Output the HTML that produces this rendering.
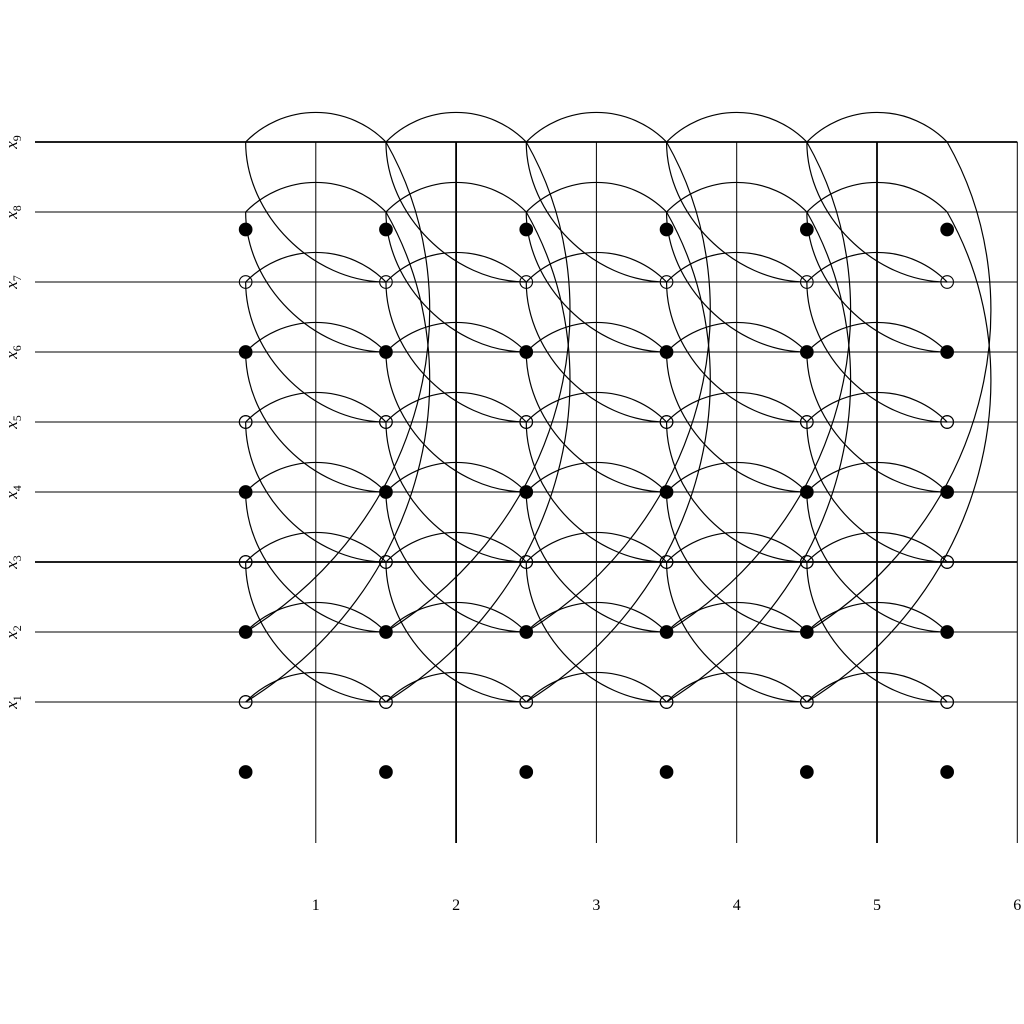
<!DOCTYPE html>
<html><head><meta charset="utf-8"><style>
body{margin:0;background:#fff}
svg{display:block}
text{font-family:"Liberation Serif",serif;fill:#000}
</style></head><body>
<svg id="chart" width="1024" height="1024" viewBox="0 0 1024 1024" xmlns="http://www.w3.org/2000/svg"></svg>
<script>
// data
const xTicks = [1, 2, 3, 4, 5, 6];
const thickX = [2, 5];
const rowLabels = [1, 2, 3, 4, 5, 6, 7, 8, 9];
const thickRows = [3, 9];
const nodeCols = [0.5, 1.5, 2.5, 3.5, 4.5, 5.5];
const nodeLevels = [0, 1, 2, 3, 4, 5, 6, 7.75]; // 0 = below x1
const nodeFilled = [true, false, true, false, true, false, true, true];
const nodeLevelsOpen = [1, 3, 5, 7];

const svg = document.getElementById('chart');
const NS = 'http://www.w3.org/2000/svg';
const sx = v => 175.5 + v * 140.3;      // x axis: 1->316, 6->1017
const sy = r => 772 - r * 70;           // row r: 1->702, 9->142
function el(tag, attrs, parent) {
  const e = document.createElementNS(NS, tag);
  for (const k in attrs) e.setAttribute(k, attrs[k]);
  (parent || svg).appendChild(e);
  return e;
}
const gGrid = el('g', {stroke: '#000', fill: 'none'});


rowLabels.forEach(r => {
  const l = el('line', {x1: 35, x2: sx(6), y1: sy(r), y2: sy(r), 'stroke-width': thickRows.includes(r) ? 1.8 : 1}, gGrid);
  
  
  const t = el('text', {x: 0, y: 0, 'font-size': 17, 'font-style': 'italic', transform: `translate(17,${sy(r)}) rotate(-90)`, 'text-anchor': 'middle'});
  
  
  t.innerHTML = 'x<tspan font-size="12" font-style="normal" dy="4">' + r + '</tspan>';
});
xTicks.forEach(v => {
  const l = el('line', {x1: sx(v), x2: sx(v), y1: sy(9), y2: 843, 'stroke-width': thickX.includes(v) ? 1.8 : 1}, gGrid);
  
  
  const t = el('text', {x: sx(v), y: 910, 'font-size': 16, 'text-anchor': 'middle'});
  
  
  t.textContent = v;
});
const gCurves = el('g', {stroke: '#000', fill: 'none', 'stroke-width': 1.2});


rowLabels.forEach(r => {
  for (let i = 0; i < nodeCols.length - 1; i++) {
    const x0 = sx(nodeCols[i]), x1 = sx(nodeCols[i + 1]), y = sy(r);
    const p = el('path', {d: `M${x0},${y} A98,98 0 0 1 ${x1},${y}`}, gCurves);
    
    
  }
});
rowLabels.filter(r => r >= 3).forEach(r => {
  for (let i = 0; i < nodeCols.length - 1; i++) {
    const x0 = sx(nodeCols[i]), x1 = sx(nodeCols[i + 1]), y0 = sy(r), y1 = sy(r - 2);
    const p = el('path', {d: `M${x0},${y0} C${x0},${y0 + 0.52 * (y1 - y0)} ${x1 - 0.52 * (x1 - x0)},${y1} ${x1},${y1}`}, gCurves);
    
    
  }
});
[9, 8].forEach(r => {
  for (let i = 1; i < nodeCols.length; i++) {
    const x0 = sx(nodeCols[i]), x1 = sx(nodeCols[i - 1]), y0 = sy(r), y1 = sy(r - 7);
    const p = el('path', {d: `M${x0},${y0} C${x0 + 90},${y0 + 158} ${x0 + 40},${y0 + 378} ${x1},${y1}`}, gCurves);
    
    
  }
});
const gNodes = el('g', {stroke: '#000', 'stroke-width': 1.1});


nodeLevels.forEach((lv, k) => {
  nodeCols.forEach(c => {
    const n = el('circle', {cx: sx(c), cy: sy(lv), r: 6.3, fill: nodeFilled[k] ? '#000' : 'none'}, gNodes);
    
    
  });
});
nodeLevelsOpen.forEach(lv => {
  nodeCols.forEach(c => {
    const n = el('circle', {cx: sx(c), cy: sy(lv), r: 6.3, fill: 'none'}, gNodes);
    
    
  });
});
</script>
</body></html>
